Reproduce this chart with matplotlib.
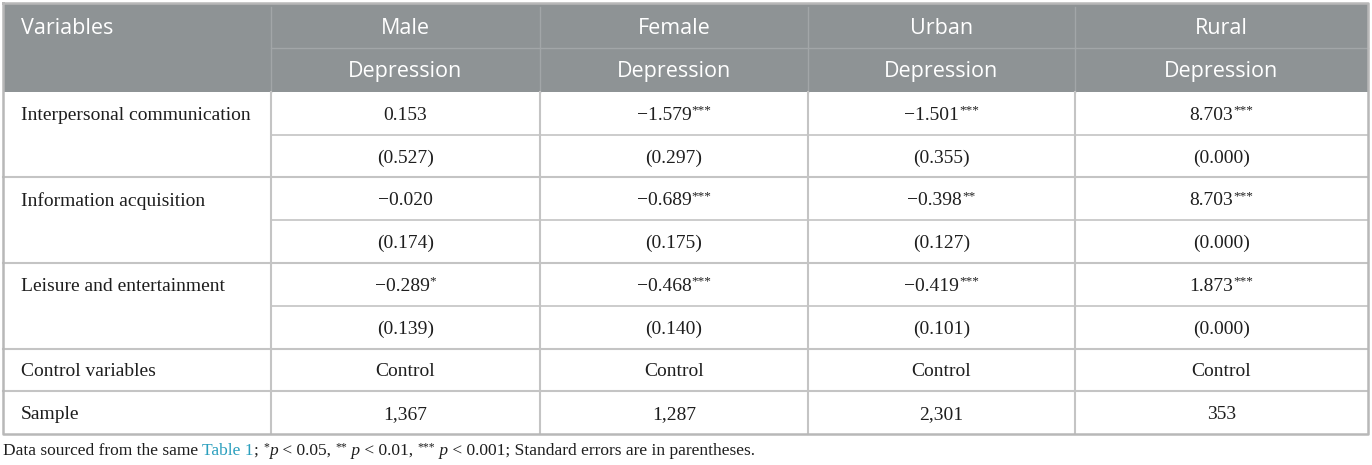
import matplotlib.pyplot as plt
from matplotlib.patches import Rectangle

# table content
columns = ["Male", "Female", "Urban", "Rural"]
variables = ["Interpersonal communication", "Information acquisition", "Leisure and entertainment"]

male_coef = [0.153, -0.020, -0.289]
male_stars = ["", "", "*"]
male_se = [0.527, 0.174, 0.139]

female_coef = [-1.579, -0.689, -0.468]
female_stars = ["***", "***", "***"]
female_se = [0.297, 0.175, 0.140]

urban_coef = [-1.501, -0.398, -0.419]
urban_stars = ["***", "**", "***"]
urban_se = [0.355, 0.127, 0.101]

rural_coef = [8.703, 8.703, 1.873]
rural_stars = ["***", "***", "***"]
rural_se = [0.000, 0.000, 0.000]

control_row = ["Control", "Control", "Control", "Control"]
sample = [1367, 1287, 2301, 353]

coefs = [male_coef, female_coef, urban_coef, rural_coef]
stars = [male_stars, female_stars, urban_stars, rural_stars]
ses = [male_se, female_se, urban_se, rural_se]

# layout in pixels
col_x = [3, 271, 540, 808, 1075, 1368]
top = 3
head_mid = 48
head_bot = 92
row_h = (434 - head_bot) / 8

header_bg = "#8e9395"
header_line = "#a2a6a8"
grid = "#c4c4c4"
txt = "#1e1e1e"
serif = "Liberation Serif"
sans = "Open Sans"
dy = 2  # serif text sits a little low in its cell

fig = plt.figure(figsize=(13.72, 4.65), dpi=100)
ax = fig.add_axes([0, 0, 1, 1])
ax.set_xlim(0, 1372)
ax.set_ylim(465, 0)
ax.axis("off")
fig.canvas.draw()
renderer = fig.canvas.get_renderer()


def width(t):
    return t.get_window_extent(renderer).width


def fmt(v):
    s = f"{v:.3f}"
    return s.replace("-", "\u2212")


def centered_value(xc, y, main, st):
    t = ax.text(0, y, main, family=serif, fontsize=14, color=txt, va="center", ha="left")
    w1 = width(t)
    w2 = 0
    s = None
    if st:
        s = ax.text(0, y - 5, st, family=serif, fontsize=9.5, color=txt, va="center", ha="left")
        w2 = width(s)
    x0 = xc - (w1 + w2) / 2
    t.set_x(x0)
    if s is not None:
        s.set_x(x0 + w1)


# header
ax.add_patch(Rectangle((col_x[0], top), col_x[-1] - col_x[0], head_bot - top,
                       facecolor=header_bg, edgecolor="none"))
ax.plot([col_x[1], col_x[-1]], [head_mid, head_mid], color=header_line, lw=1)
for x in col_x[1:-1]:
    ax.plot([x, x], [top + 4, head_bot], color=header_line, lw=1)

ax.text(21, (top + head_mid) / 2 + 3, "Variables", family=sans, fontsize=15.5,
        color="white", va="center", ha="left")
for i, name in enumerate(columns):
    xc = (col_x[i + 1] + col_x[i + 2]) / 2
    ax.text(xc, (top + head_mid) / 2 + 3, name, family=sans, fontsize=15.5,
            color="white", va="center", ha="center")
    ax.text(xc, (head_mid + head_bot) / 2 + 2, "Depression", family=sans, fontsize=15.5,
            color="white", va="center", ha="center")

# body rows
row_y = [head_bot + k * row_h for k in range(9)]
for k, var in enumerate(variables):
    y_coef = (row_y[2 * k] + row_y[2 * k + 1]) / 2 + dy
    y_se = (row_y[2 * k + 1] + row_y[2 * k + 2]) / 2 + dy
    ax.text(21, y_coef, var, family=serif, fontsize=14, color=txt, va="center", ha="left")
    for i in range(4):
        xc = (col_x[i + 1] + col_x[i + 2]) / 2
        centered_value(xc, y_coef, fmt(coefs[i][k]), stars[i][k])
        ax.text(xc, y_se, "(" + fmt(ses[i][k]) + ")", family=serif, fontsize=14,
                color=txt, va="center", ha="center")
    # thin line between coefficient and se (data columns only)
    ax.plot([col_x[1], col_x[-1]], [row_y[2 * k + 1]] * 2, color=grid, lw=1.2)
    ax.plot([col_x[0], col_x[-1]], [row_y[2 * k + 2]] * 2, color=grid, lw=1.5)

y_ctrl = (row_y[6] + row_y[7]) / 2 + dy
y_samp = (row_y[7] + row_y[8]) / 2 + dy
ax.text(21, y_ctrl, "Control variables", family=serif, fontsize=14, color=txt, va="center")
ax.text(21, y_samp, "Sample", family=serif, fontsize=14, color=txt, va="center")
for i in range(4):
    xc = (col_x[i + 1] + col_x[i + 2]) / 2
    ax.text(xc, y_ctrl, control_row[i], family=serif, fontsize=14, color=txt,
            va="center", ha="center")
    ax.text(xc, y_samp, f"{sample[i]:,}", family=serif, fontsize=14, color=txt,
            va="center", ha="center")
ax.plot([col_x[0], col_x[-1]], [row_y[7]] * 2, color=grid, lw=1.5)

# vertical lines in body
for x in col_x[1:-1]:
    ax.plot([x, x], [head_bot, row_y[8]], color=grid, lw=1.5)

# outer border
ax.plot([col_x[0], col_x[0], col_x[-1], col_x[-1], col_x[0]],
        [top, row_y[8], row_y[8], top, top], color="#b8b8b8", lw=1.8)

# footnote made of styled runs
runs = [
    ("Data sourced from the same ", "normal", txt, 0),
    ("Table 1", "normal", "#2a9fbd", 0),
    ("; ", "normal", txt, 0),
    ("*", "normal", txt, 1),
    ("p", "italic", txt, 0),
    (" < 0.05, ", "normal", txt, 0),
    ("**", "normal", txt, 1),
    (" p", "italic", txt, 0),
    (" < 0.01, ", "normal", txt, 0),
    ("***", "normal", txt, 1),
    (" p", "italic", txt, 0),
    (" < 0.001; Standard errors are in parentheses.", "normal", txt, 0),
]
x = 3
yf = 451
for s, style, c, sup in runs:
    if sup:
        t = ax.text(x, yf - 4, s, family=serif, fontsize=8.5, color=c, style=style, va="center")
    else:
        t = ax.text(x, yf, s, family=serif, fontsize=12.5, color=c, style=style, va="center")
    x += width(t)

fig.savefig("out.png", dpi=100)
